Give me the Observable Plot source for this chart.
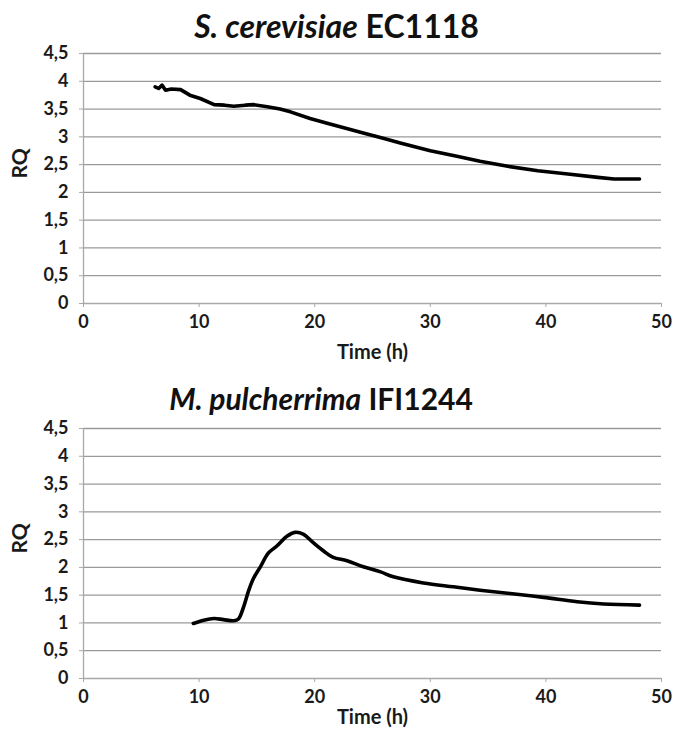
<!DOCTYPE html>
<html>
<head>
<meta charset="utf-8">
<script src="https://cdn.jsdelivr.net/npm/d3@7"></script>
<script src="https://cdn.jsdelivr.net/npm/@observablehq/plot@0.6"></script>
<style>
  html, body { margin: 0; padding: 0; background: #fff; }
  #page { position: relative; width: 673px; height: 738px; overflow: hidden; font-family: Lato, "Open Sans", sans-serif; }
  .title { position: absolute; left: 0; width: 673px; box-sizing: border-box; text-align: center;
           font-family: Lato, sans-serif; font-weight: bold; line-height: 1.2; color: #111; white-space: nowrap; }
  .chart { position: absolute; left: 0; }
</style>
</head>
<body>
<div id="page">
  <div class="title" id="t1" style="top:7px; font-size:32px;"><i>S. cerevisiae</i> EC1118</div>
  <div class="chart" id="c1" style="top:45px;"></div>
  <div class="title" id="t2" style="top:380px; font-size:30px; padding-right:31px;"><i>M. pulcherrima</i> IFI1244</div>
  <div class="chart" id="c2" style="top:420px;"></div>
</div>
<script>
// ---- data ----
const xTicks = [0, 10, 20, 30, 40, 50];
const yTicks = [0, 0.5, 1, 1.5, 2, 2.5, 3, 3.5, 4, 4.5];

// S. cerevisiae EC1118
const timeEC = [6.2, 6.5, 6.8, 7.1, 7.6, 8.4, 9.2, 10.1, 11.3, 12.2, 13.0, 14.0, 14.7, 15.9, 17.0, 17.9, 19.6, 21.0, 22.2, 24.2, 26.0, 27.4, 30.0, 32.3, 34.3, 36.7, 39.3, 41.9, 44.5, 45.9, 48.1];
const rqEC   = [3.90, 3.87, 3.93, 3.84, 3.86, 3.85, 3.75, 3.69, 3.58, 3.57, 3.55, 3.57, 3.58, 3.54, 3.50, 3.45, 3.33, 3.25, 3.18, 3.07, 2.97, 2.89, 2.75, 2.65, 2.56, 2.47, 2.39, 2.33, 2.27, 2.24, 2.24];

// M. pulcherrima IFI1244
const timeMP = [9.5, 10.4, 11.3, 12.1, 13.0, 13.4, 13.85, 14.3, 14.7, 15.3, 16.0, 16.7, 17.6, 18.3, 19.0, 19.9, 20.8, 21.6, 22.8, 24.2, 25.7, 26.8, 29.4, 32.0, 34.3, 36.9, 39.8, 42.7, 45.0, 48.1];
const rqMP   = [0.99, 1.05, 1.08, 1.06, 1.04, 1.07, 1.29, 1.59, 1.80, 2.01, 2.26, 2.38, 2.56, 2.63, 2.60, 2.44, 2.29, 2.18, 2.12, 2.01, 1.92, 1.83, 1.72, 1.65, 1.59, 1.53, 1.46, 1.38, 1.34, 1.32];

const xLabel = "Time (h)";
const yLabel = "RQ";

function makeChart(times, values, curve, xLabelDy) {
  const data = times.map((t, i) => ({t, v: values[i]}));
  return Plot.plot({
    width: 673,
    height: 318,
    marginLeft: 83,
    marginRight: 12,
    marginTop: 8,
    marginBottom: 60,
    style: {fontFamily: "Lato, sans-serif", fontSize: "18px", fontWeight: "bold", color: "#1a1a1a", background: "white", overflow: "visible"},
    x: {domain: [0, 50]},
    y: {domain: [0, 4.5]},
    marks: [
      Plot.gridY(yTicks.filter(d => d > 0), {stroke: "#9a9a9a", strokeOpacity: 1, strokeWidth: 1.3}),
      Plot.ruleY([0], {stroke: "#a8a8a8", strokeWidth: 1.3}),
      Plot.ruleX([0], {stroke: "#a8a8a8", strokeWidth: 1.3}),
      Plot.axisX({ticks: xTicks, tickSize: 4, tickPadding: 8, stroke: "#a8a8a8", fontSize: 18, tickFormat: d => String(d), label: null}),
      Plot.axisY({ticks: yTicks, tickSize: 4, tickPadding: 11, stroke: "#a8a8a8", fontSize: 18, tickFormat: d => String(d).replace(".", ","), label: null}),
      Plot.text([xLabel], {frameAnchor: "bottom", dy: xLabelDy, lineAnchor: "middle", fontSize: 20, fontWeight: "bold", fill: "#1a1a1a"}),
      Plot.text([yLabel], {frameAnchor: "left", dx: -63, rotate: -90, lineAnchor: "middle", fontSize: 21, fontWeight: "bold", fill: "#1a1a1a"}),
      Plot.line(data, {x: "t", y: "v", stroke: "#000", strokeWidth: 3.6, curve, strokeLinejoin: "round", strokeLinecap: "round"})
    ]
  });
}

document.getElementById("c1").appendChild(makeChart(timeEC, rqEC, "linear", 49));
document.getElementById("c2").appendChild(makeChart(timeMP, rqMP, "catmull-rom", 39));
</script>
</body>
</html>
